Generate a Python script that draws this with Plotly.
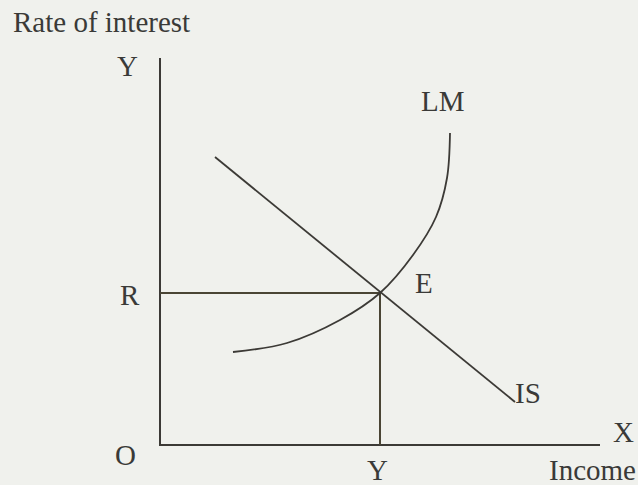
import plotly.graph_objects as go

# Data (income units on x, interest-rate units on y; origin O at 0,0)
is_x = [5.5, 35.5]
is_y = [28.8, 4.3]
lm_x = [7.3, 12.7, 18.0, 22.0, 25.3, 27.6, 28.7, 29.0]
lm_y = [9.3, 10.2, 12.5, 15.2, 19.0, 22.8, 26.7, 31.2]
eq_x = 22.0
eq_y = 15.2
axis_x_max = 44.0
axis_y_max = 38.7

line_col = "#3c3a36"
guide_col = "#4a4535"
font = "Liberation Serif"
txt_col = "#3a3a38"

fig = go.Figure()
# axes
fig.add_trace(go.Scatter(x=[0, 0, axis_x_max], y=[axis_y_max, 0, 0], mode="lines",
                         line=dict(color=line_col, width=2), hoverinfo="skip"))
# guide lines R and Y
fig.add_trace(go.Scatter(x=[0, eq_x, eq_x], y=[eq_y, eq_y, 0], mode="lines",
                         line=dict(color=guide_col, width=2), hoverinfo="skip"))
# IS
fig.add_trace(go.Scatter(x=is_x, y=is_y, mode="lines",
                         line=dict(color=line_col, width=1.8), hoverinfo="skip"))
# LM
fig.add_trace(go.Scatter(x=lm_x, y=lm_y, mode="lines",
                         line=dict(color=line_col, width=1.8, shape="spline", smoothing=1.0),
                         hoverinfo="skip"))

labels = [
    ("Rate of interest", -14.9, 42.3, "left"),
    ("Y", -3.3, 37.9, "center"),
    ("LM", 28.3, 34.4, "center"),
    ("E", 26.4, 16.2, "center"),
    ("R", -3.0, 15.0, "center"),
    ("IS", 36.8, 5.2, "center"),
    ("O", -3.5, -1.0, "center"),
    ("X", 46.3, 1.3, "center"),
    ("Y", 21.7, -2.5, "center"),
    ("Income", 43.2, -2.5, "center"),
]
for t, x, y, xa in labels:
    fig.add_annotation(x=x, y=y, text=t, showarrow=False, xanchor=xa, yanchor="middle",
                       font=dict(family=font, size=29, color=txt_col))

fig.update_layout(
    width=638, height=485,
    margin=dict(l=0, r=0, t=0, b=0),
    paper_bgcolor="#f0f1ed", plot_bgcolor="#f0f1ed",
    showlegend=False,
    xaxis=dict(range=[-16, 47.8], visible=False, fixedrange=True),
    yaxis=dict(range=[-4, 44.5], visible=False, fixedrange=True),
)
fig.write_html("out.html", config={"displayModeBar": False},
               post_script="document.body.style.margin='0';document.body.style.overflow='hidden';document.body.style.background='#f0f1ed';")
